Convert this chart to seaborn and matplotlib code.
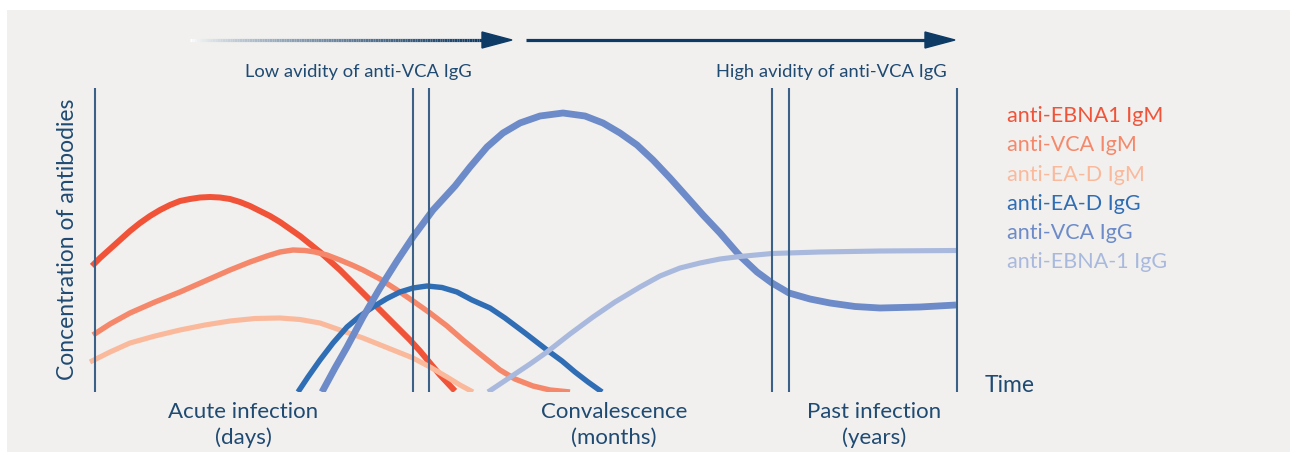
"""
EBV antibody kinetics sketch: concentration of antibodies over the course
of infection (acute / convalescence / past infection).
"""

import numpy as np
import pandas as pd
import matplotlib
matplotlib.use("Agg")
import matplotlib.pyplot as plt
from matplotlib.collections import LineCollection
from matplotlib.patches import Rectangle, Polygon
import seaborn as sns

W, H = 1290, 455

# --- data, arbitrary units: time (0 = onset, 862 = end), concentration (0 = baseline) ---
ebna1_igm_t = [-3, 5, 15, 25, 35, 45, 55, 65, 75, 85, 95, 105, 115, 125, 135, 145, 155, 165,
               175, 185, 195, 205, 215, 225, 235, 245, 255, 265, 275, 285, 295, 305, 315,
               325, 335, 345, 360]
ebna1_igm_c = [126, 134, 143, 152, 161, 169, 176, 182, 187, 191, 193, 194.5, 195, 194.5, 193,
               190, 186, 181, 176, 170, 163, 156, 148, 140, 131, 122, 112, 102, 92, 82, 72,
               62, 52, 41, 29, 17, 1]

vca_igm_t = [-2, 15, 35, 60, 85, 110, 135, 155, 172, 185, 198, 210, 220, 232, 245, 257, 268,
             285, 302, 318, 335, 352, 368, 385, 405, 420, 438, 455, 475]
vca_igm_c = [57, 68, 79, 90, 100, 111, 122, 130, 136, 140, 142, 141.5, 140, 137, 132, 127,
             122, 113, 102, 91, 79, 66, 52, 38, 22, 13, 6, 2, 0]

ead_igm_t = [-5, 15, 35, 60, 85, 110, 135, 160, 185, 205, 225, 245, 268, 293, 318, 335, 352,
             365, 378]
ead_igm_c = [30, 40, 49, 56, 62, 67, 71, 73.5, 74, 72.5, 69, 62, 54, 44, 34, 25, 15, 7, 0]

ead_igg_t = [203, 213, 225, 238, 252, 265, 278, 292, 305, 318, 332, 347, 362, 377, 395, 410,
             430, 452, 467, 480, 493, 507]
ead_igg_c = [0, 15, 32, 49, 65, 76, 85, 93.5, 100, 104, 106, 104.5, 100, 92, 84, 74, 59, 42,
             31, 20, 10, 0]

vca_igg_t = [227, 240, 252, 268, 285, 302, 318, 338, 360, 375, 392, 408, 425, 445, 468, 490,
             508, 525, 542, 558, 575, 592, 608, 625, 645, 662, 677, 694, 715, 735, 760, 785,
             825, 861]
vca_igg_c = [0, 24, 45, 75, 104, 131, 155, 182, 206, 225, 245, 259, 269, 276, 279, 276, 269,
             259, 247, 232, 214, 195, 177, 159, 136, 120, 109, 99, 93, 89, 85.5, 84, 85, 87]

ebna1_igg_t = [393, 405, 420, 435, 452, 475, 498, 520, 545, 565, 585, 605, 625, 645, 677, 725,
               785, 861]
ebna1_igg_c = [0, 8, 18, 28, 40, 58, 75, 90, 105, 116, 124, 129, 133, 135.5, 138.5, 140, 141,
               141.5]

# phase boundaries (time units)
boundaries = [0, 318, 334, 677, 694, 862]

legend_labels = ["anti-EBNA1 IgM", "anti-VCA IgM", "anti-EA-D IgM",
                 "anti-EA-D IgG", "anti-VCA IgG", "anti-EBNA-1 IgG"]
colors = ["#f05338", "#f5886a", "#fbb99c", "#2f6db4", "#6c8bc8", "#a9b9de"]
widths = [4.3, 3.9, 3.7, 3.9, 4.9, 3.7]

phase_labels = [("Acute infection", "(days)"),
                ("Convalescence", "(months)"),
                ("Past infection", "(years)")]

curves = [
    (ebna1_igm_t, ebna1_igm_c),
    (vca_igm_t, vca_igm_c),
    (ead_igm_t, ead_igm_c),
    (ead_igg_t, ead_igg_c),
    (vca_igg_t, vca_igg_c),
    (ebna1_igg_t, ebna1_igg_c),
]

TEXT = "#1f4a72"
LINE = "#3c6189"
NAVY = "#0d3b66"
BG = "#f1f0ee"

sns.set_theme(style="white")
plt.rcParams["font.family"] = ["Lato", "DejaVu Sans"]

fig = plt.figure(figsize=(W / 100, H / 100), dpi=100)
fig.patch.set_facecolor("white")

# decoration layer in pixel coordinates
deco = fig.add_axes([0, 0, 1, 1])
deco.set_xlim(0, W)
deco.set_ylim(H, 0)
deco.axis("off")
deco.add_patch(Rectangle((7, 10), W - 7, 442, facecolor=BG, edgecolor="none"))

# fading arrow (low avidity) and solid arrow (high avidity)
xs = np.linspace(190, 484, 120)
segs = [[(xs[i], 40), (xs[i + 1], 40)] for i in range(len(xs) - 1)]
fade = np.linspace(0, 1, len(segs))
white = np.array([1.0, 1.0, 1.0])
navy = np.array(matplotlib.colors.to_rgb(NAVY))
seg_cols = [tuple(white * (1 - f ** 0.7) + navy * f ** 0.7) for f in fade]
deco.add_collection(LineCollection(segs, colors=seg_cols, linewidths=2.3, capstyle="butt"))
deco.add_patch(Polygon([(482, 32), (512, 40), (482, 48)], closed=True, color=NAVY))
deco.plot([526, 928], [40, 40], color=NAVY, lw=2.3, solid_capstyle="butt")
deco.add_patch(Polygon([(925, 32), (955, 40), (925, 48)], closed=True, color=NAVY))

deco.text(358, 72, "Low avidity of anti-VCA IgG", ha="center", va="center", fontsize=13.2, color=TEXT)
deco.text(831, 72, "High avidity of anti-VCA IgG", ha="center", va="center", fontsize=13.2, color=TEXT)
deco.text(68, 239, "Concentration of antibodies", ha="center", va="center", rotation=90,
          fontsize=16.5, color=TEXT)
deco.text(985, 385, "Time", ha="left", va="center", fontsize=16.5, color=TEXT)

for (top, bottom), cx in zip(phase_labels, [243, 614, 874]):
    deco.text(cx, 412, top, ha="center", va="center", fontsize=16, color=TEXT)
    deco.text(cx, 438, bottom, ha="center", va="center", fontsize=16, color=TEXT)

for i, (lab, col) in enumerate(zip(legend_labels, colors)):
    deco.text(1007, 116 + i * 29.3, lab, ha="left", va="center", fontsize=15.5, color=col)

# data layer: t in [-9, 871] -> px 86..966, c in [0, 304] -> px 392..88
ax = fig.add_axes([86 / W, (H - 392) / H, 880 / W, 304 / H])
ax.set_xlim(-9, 871)
ax.set_ylim(0, 304)
ax.patch.set_alpha(0)
ax.axis("off")

order = [2, 1, 0, 3, 4, 5]  # EA-D IgM at the back, EBNA-1 IgG in front
for k in order:
    t, c = curves[k]
    df = pd.DataFrame({"time": t, "conc": c})
    sns.lineplot(data=df, x="time", y="conc", sort=False, estimator=None, ax=ax,
                 color=colors[k], linewidth=widths[k], solid_capstyle="butt",
                 solid_joinstyle="round", zorder=2 + k)
ax.vlines(boundaries, 0, 304, color=LINE, linewidth=1.5, zorder=20)
ax.set_xlabel("")
ax.set_ylabel("")

fig.savefig("out.png", dpi=100, facecolor=fig.get_facecolor())
